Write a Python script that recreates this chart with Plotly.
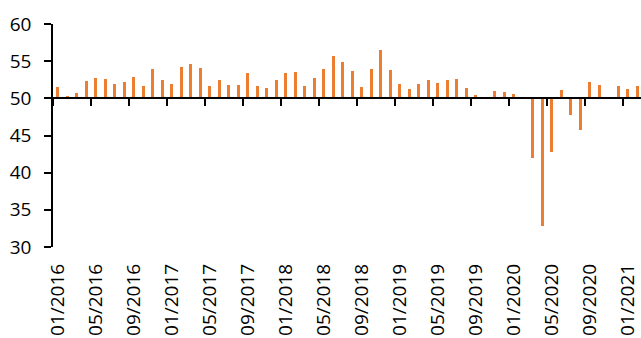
import plotly.graph_objects as go

# Monthly values, Jan 2016 .. Feb 2021 (None = no bar)
months = [f"{m:02d}/{y}" for y in range(2016, 2022) for m in range(1, 13)][:62]
values = [
    51.5, 50.3, 50.7, 52.3, 52.7, 52.6, 51.9, 52.2, 52.9, 51.7, 54.0, 52.4,
    51.9, 54.2, 54.6, 54.1, 51.6, 52.5, 51.75, 51.8, 53.4, 51.6, 51.4, 52.5,
    53.4, 53.5, 51.6, 52.7, 53.9, 55.7, 54.9, 53.7, 51.5, 53.9, 56.5, 53.8,
    51.9, 51.2, 51.9, 52.5, 52.1, 52.5, 52.6, 51.4, 50.5, None, 51.0, 50.85,
    50.6, None, 42.0, 32.8, 42.8, 51.1, 47.7, 45.8, 52.2, 51.8, None, 51.7,
    51.3, 51.6,
]
tick_labels = ["01/2016", "05/2016", "09/2016", "01/2017", "05/2017", "09/2017",
               "01/2018", "05/2018", "09/2018", "01/2019", "05/2019", "09/2019",
               "01/2020", "05/2020", "09/2020", "01/2021"]
y_ticks = [30, 35, 40, 45, 50, 55, 60]
baseline = 50

idx = list(range(len(values)))
label_pos = [months.index(t) for t in tick_labels]
boundary_pos = [p - 0.5 for p in label_pos]

font = dict(family="Open Sans", size=19, color="#000000")

fig = go.Figure()
fig.add_trace(go.Bar(
    x=idx,
    y=[None if v is None else v - baseline for v in values],
    base=baseline,
    width=0.35,
    marker=dict(color="#ED7D31", line=dict(width=0)),
    showlegend=False,
    xaxis="x",
    yaxis="y",
))
fig.add_trace(go.Scatter(x=[0], y=[None], xaxis="x2", yaxis="y",
                         mode="markers", showlegend=False, hoverinfo="skip"))

xr = [-0.5, 61.4]
fig.update_layout(
    width=641, height=338,
    margin=dict(l=53, r=0, t=24, b=91, autoexpand=False),
    paper_bgcolor="white", plot_bgcolor="white",
    font=font,
    bargap=0,
    xaxis=dict(
        range=xr, tickmode="array", tickvals=label_pos, ticktext=tick_labels,
        tickangle=-90, ticks="", showline=False, showgrid=False, zeroline=False,
        tickfont=font, ticklabelstandoff=12, automargin=False,
    ),
    xaxis2=dict(
        range=xr, overlaying="x", anchor="free", position=(baseline - 30) / 30,
        side="bottom", tickmode="array", tickvals=boundary_pos,
        ticks="outside", ticklen=7, tickwidth=2, tickcolor="#000000",
        showline=True, linecolor="#000000", linewidth=2,
        showticklabels=False, showgrid=False, zeroline=False, automargin=False,
    ),
    yaxis=dict(
        range=[30, 60], tickmode="array", tickvals=y_ticks,
        ticks="outside", ticklen=7, tickwidth=1.5, tickcolor="#000000",
        showline=True, linecolor="#000000", linewidth=1.5,
        showgrid=False, zeroline=False, tickfont=font, ticklabelstandoff=9,
        automargin=False,
    ),
)

fig.write_html(
    "out.html",
    config={"displayModeBar": False},
    post_script="document.body.style.margin='0';document.body.style.overflow='hidden';",
)
